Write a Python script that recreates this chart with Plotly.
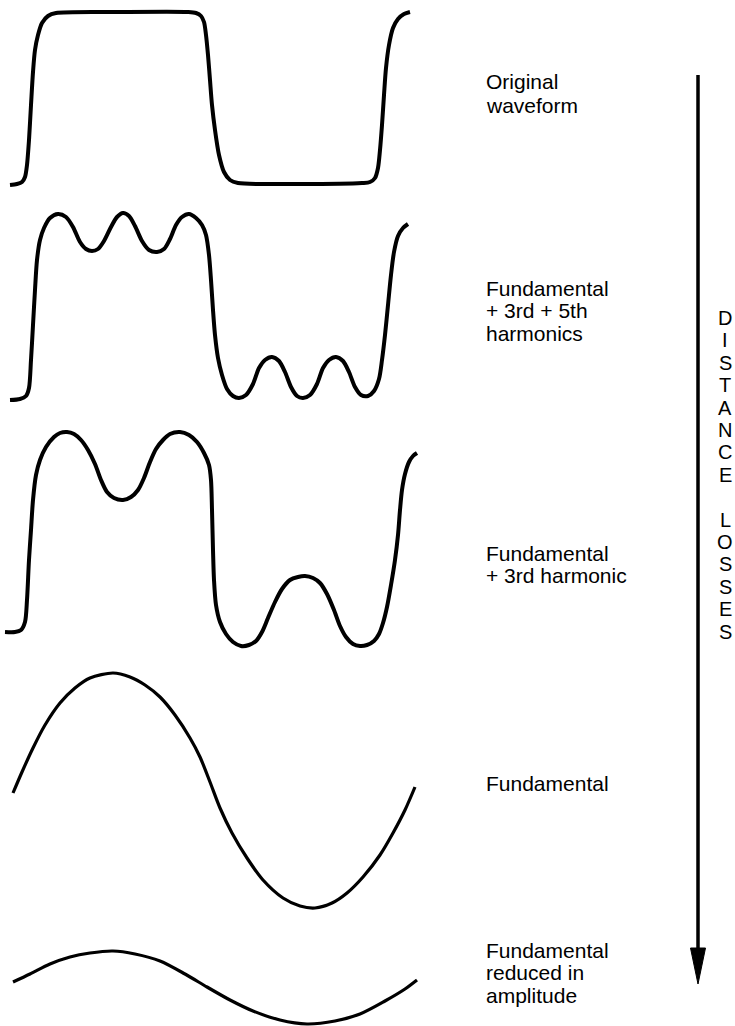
import plotly.graph_objects as go

# ---- waveform traces (pixel-space x, y) ----
wave_original_x = [10,17,22,25,27,29,31,33,35,38,42,48,56,120,188,196,201,204,206,208,210,212,215,219,224,230,238,300,362,370,375,378,380,382,384,386,389,393,398,404,410]
wave_original_y = [185,184,182,177,165,140,105,72,50,35,23,16,13,12,12,13,16,22,35,55,80,105,130,155,172,180,183,184,183,182,178,168,150,125,95,68,45,28,19,14,12]

wave_h135_x = [10,20,26,29,31,33,35,37,40,44,50,58,66,73,80,86,92,98,104,111,117,123,129,135,142,149,157,164,170,176,182,189,196,202,206,209,211,213,215,218,222,227,233,239,246,253,259,265,272,279,285,291,297,303,310,317,323,329,336,343,349,355,361,368,374,379,382,385,388,391,394,398,403,408]
wave_h135_y = [400,399,396,388,360,325,290,260,240,228,218,214,217,227,242,249,251,249,241,227,217,213,216,226,241,250,252,249,239,225,217,214,218,225,235,255,280,310,335,358,375,389,396,398,395,384,368,360,357,361,372,387,396,398,395,384,368,360,357,361,372,387,395,396,391,379,360,335,305,275,252,236,228,224]

wave_h13_x = [5,15,21,25,27,29,31,33,36,40,46,54,60,67,74,81,88,95,101,107,114,123,131,138,144,150,156,163,170,180,189,197,204,209,211,212,213,214,216,220,226,233,241,249,256,262,268,275,282,290,298,305,313,320,327,334,340,346,353,360,367,374,379,383,387,391,395,398,400,402,405,409,413,417]
wave_h13_y = [632,632,630,622,600,560,530,500,475,460,447,437,433,432,434,440,450,464,480,492,498,500,497,490,478,462,449,440,434,432,435,442,453,465,480,510,550,580,605,622,634,642,646,645,641,632,618,602,589,580,577,576,578,583,594,610,626,637,644,646,645,641,634,623,607,585,560,535,510,490,474,462,456,453]

wave_fund_x = [13,22,33,45,60,75,90,113,130,145,160,175,190,200,210,220,232,247,263,283,300,315,332,347,363,380,393,405,415]
wave_fund_y = [793,772,748,725,703,688,678,673,677,685,697,715,738,757,782,808,833,858,880,898,906,908,903,893,877,855,833,810,787]

wave_reduced_x = [13,30,50,70,90,113,135,160,185,207,230,253,280,307,335,360,385,405,417]
wave_reduced_y = [982,974,964,957,953,951,954,961,974,987,1000,1011,1020,1024,1021,1014,1001,989,980]

# ---- labels ----
label_lines = ["Original", "waveform",
               "Fundamental", "+ 3rd + 5th", "harmonics",
               "Fundamental", "+ 3rd harmonic",
               "Fundamental",
               "Fundamental", "reduced in", "amplitude"]
label_y = [81, 105, 288, 310, 333, 553, 575, 783, 950, 972, 995]
label_x = 484

side_letters = list("DISTANCE") + [""] + list("LOSSES")
side_first_y = 318
side_step = 22.4
side_x = 725

arrow_x = 698
arrow_top = 75
arrow_tip = 984
arrow_head_len = 36
arrow_head_half = 7.5

fig = go.Figure()
waves = [
    (wave_original_x, wave_original_y, 4.0),
    (wave_h135_x, wave_h135_y, 4.0),
    (wave_h13_x, wave_h13_y, 4.0),
    (wave_fund_x, wave_fund_y, 3.2),
    (wave_reduced_x, wave_reduced_y, 3.2),
]
for xs, ys, w in waves:
    fig.add_trace(go.Scatter(x=xs, y=ys, mode="lines",
                             line=dict(color="black", width=w, shape="spline", smoothing=0.8),
                             hoverinfo="skip", showlegend=False))

for txt, y in zip(label_lines, label_y):
    fig.add_annotation(x=label_x, y=y, text=txt, showarrow=False, xanchor="left", yanchor="middle",
                       font=dict(family="Liberation Sans, Arial, sans-serif", size=21, color="black"))

for i, ch in enumerate(side_letters):
    if ch:
        fig.add_annotation(x=side_x, y=side_first_y + i * side_step, text=ch, showarrow=False,
                           xanchor="center", yanchor="middle",
                           font=dict(family="Liberation Sans, Arial, sans-serif", size=20, color="black"))

# arrow shaft and head
fig.add_shape(type="line", x0=arrow_x, x1=arrow_x, y0=arrow_top, y1=arrow_tip - arrow_head_len + 2,
              line=dict(color="black", width=3.5), xref="x", yref="y")
head_top = arrow_tip - arrow_head_len
fig.add_shape(type="path",
              path=f"M {arrow_x - arrow_head_half} {head_top} L {arrow_x + arrow_head_half} {head_top} L {arrow_x} {arrow_tip} Z",
              fillcolor="black", line=dict(color="black", width=1), xref="x", yref="y")

fig.update_layout(width=735, height=1026, margin=dict(l=0, r=0, t=0, b=0),
                  paper_bgcolor="white", plot_bgcolor="white",
                  xaxis=dict(range=[0, 735], visible=False, fixedrange=True),
                  yaxis=dict(range=[1026, 0], visible=False, fixedrange=True))
fig.write_html("out.html", config={"displayModeBar": False},
               post_script="document.body.style.margin='0';document.body.style.overflow='hidden';")
